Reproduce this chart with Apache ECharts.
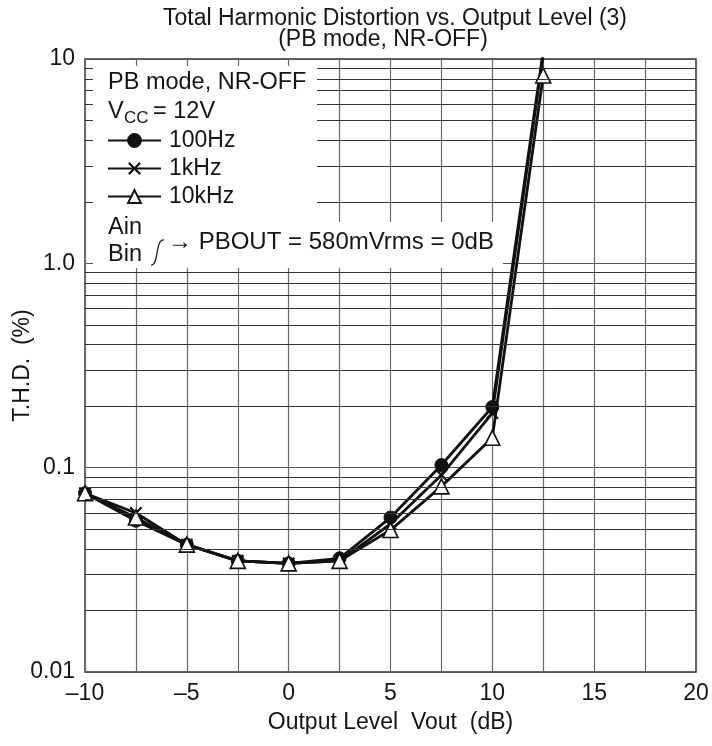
<!DOCTYPE html>
<html>
<head>
<meta charset="utf-8">
<script src="https://cdn.jsdelivr.net/npm/echarts@6/dist/echarts.min.js"></script>
<style>
html,body{margin:0;padding:0;background:#fff;}
#chart{width:712px;height:746px;}
</style>
</head>
<body>
<div id="chart"></div>
<script>
// ---- data ----
var outputLevels = [-10, -7.5, -5, -2.5, 0, 2.5, 5, 7.5, 10, 12.5];
var thd100Hz = [0.075, 0.055, 0.042, 0.035, 0.034, 0.036, 0.057, 0.103, 0.198, 11];
var thd1kHz  = [0.075, 0.060, 0.042, 0.035, 0.034, 0.035, 0.053, 0.092, 0.185, 10.5];
var thd10kHz = [0.075, 0.057, 0.042, 0.035, 0.034, 0.035, 0.0495, 0.081, 0.14, 8.3];
var seriesNames = ['100Hz', '1kHz', '10kHz'];
var xTickValues = [-10, -5, 0, 5, 10, 15, 20];
var xTickLabels = ['\u201310', '\u20135', '0', '5', '10', '15', '20'];
var yTickValues = [0.01, 0.1, 1, 10];
var yTickLabels = ['0.01', '0.1', '1.0', '10'];
var minorGridValues = [0.02,0.03,0.04,0.05,0.06,0.07,0.08,0.09,
                       0.2,0.3,0.4,0.5,0.6,0.7,0.8,0.9,
                       2,3,4,5,6,7,8,9];
var titleLine1 = 'Total Harmonic Distortion vs. Output Level (3)';
var titleLine2 = '(PB mode, NR-OFF)';

function pairs(xs, ys){ return xs.map(function(x,i){ return [x, ys[i]]; }); }

var FONT = 'Liberation Sans, Arial, Helvetica, sans-serif';
var TXT = '#151515';
var chart = echarts.init(document.getElementById('chart'), null, {renderer:'canvas'});

var xSymbol = 'path://M0,1.2L1.2,0L5,3.8L8.8,0L10,1.2L6.2,5L10,8.8L8.8,10L5,6.2L1.2,10L0,8.8L3.8,5Z';

function mkSeries(name, ys, symbol, size, itemStyle, extra){
  var s = {
    name: name, type: 'line', data: pairs(outputLevels, ys),
    symbol: symbol, symbolSize: size, showAllSymbol: true,
    clip: true,
    lineStyle: {color:'#111', width: 2.8},
    itemStyle: itemStyle,
    emphasis: {disabled: true},
    animation: false
  };
  if (extra) for (var k in extra) s[k] = extra[k];
  return s;
}

var option = {
  animation: false,
  backgroundColor: '#fff',
  grid: {left: 85, right: 16, top: 59, bottom: 74, show: true, borderColor: '#333', borderWidth: 1.5,
         backgroundColor: 'transparent', containLabel: false, outerBoundsMode: 'none'},
  legend: {
    data: seriesNames, orient: 'vertical', left: 102, top: 124,
    itemWidth: 53, itemHeight: 16, itemGap: 5, z: 20,
    selectedMode: false,
    textStyle: {fontFamily: FONT, fontSize: 23, color: TXT, padding: [0,0,0,3]}
  },
  xAxis: {
    type: 'value', min: -10, max: 20, interval: 2.5,
    name: 'Output Level  Vout  (dB)', nameLocation: 'middle', nameGap: 39,
    nameTextStyle: {fontFamily: FONT, fontSize: 23, color: TXT},
    axisLine: {show: false}, axisTick: {show: false},
    axisLabel: {
      margin: 10, fontFamily: FONT, fontSize: 23, color: TXT,
      formatter: function(v){ var i = xTickValues.indexOf(v); return i >= 0 ? xTickLabels[i] : ''; }
    },
    splitLine: {show: true, lineStyle: {color: '#6a6a6a', width: 1.2}}
  },
  yAxis: {
    type: 'log', logBase: 10, min: 0.01, max: 10,
    name: 'T.H.D.  (%)', nameLocation: 'middle', nameGap: 51, nameRotate: 90, nameMoveOverlap: false,
    nameTextStyle: {fontFamily: FONT, fontSize: 23, color: TXT},
    axisLine: {show: false}, axisTick: {show: false},
    axisLabel: {
      margin: 10, fontFamily: FONT, fontSize: 23, color: TXT,
      formatter: function(v){
        for (var i = 0; i < yTickValues.length; i++) {
          if (Math.abs(Math.log10(v) - Math.log10(yTickValues[i])) < 1e-6) return yTickLabels[i];
        }
        return '';
      }
    },
    splitLine: {show: true, lineStyle: {color: '#555', width: 1.2}}
  },
  series: [
    mkSeries(seriesNames[0], thd100Hz, 'circle', 13, {color: '#111', borderColor: '#111', borderWidth: 1}, {
      markLine: {
        silent: true, symbol: ['none','none'], label: {show: false},
        lineStyle: {color: '#333', width: 1.1, type: 'solid'},
        emphasis: {disabled: true},
        data: minorGridValues.map(function(v){ return {yAxis: v}; }),
        animation: false
      }
    }),
    mkSeries(seriesNames[1], thd1kHz, xSymbol, 13, {color: '#111', borderColor: '#111', borderWidth: 0}),
    mkSeries(seriesNames[2], thd10kHz, 'triangle', 15, {color: '#fff', borderColor: '#111', borderWidth: 1.6})
  ],
  graphic: [
    {type: 'text', z: 11, x: 395, y: 19, style: {text: titleLine1, font: '23px ' + FONT, fill: TXT, align: 'center', verticalAlign: 'middle'}},
    {type: 'text', z: 11, x: 383, y: 40, style: {text: titleLine2, font: '23px ' + FONT, fill: TXT, align: 'center', verticalAlign: 'middle'}},
    {type: 'rect', z: 10, shape: {x: 93, y: 66, width: 224, height: 160}, style: {fill: '#fff'}},
    {type: 'rect', z: 10, shape: {x: 93, y: 222, width: 410, height: 46}, style: {fill: '#fff'}},
    {type: 'text', z: 11, x: 108, y: 83, style: {text: 'PB mode, NR-OFF', font: '23.5px ' + FONT, fill: TXT, verticalAlign: 'middle'}},
    {type: 'text', z: 11, x: 108, y: 112, style: {text: 'V', font: '23.5px ' + FONT, fill: TXT, verticalAlign: 'middle'}},
    {type: 'text', z: 11, x: 124, y: 118, style: {text: 'CC', font: '17px ' + FONT, fill: TXT, verticalAlign: 'middle'}},
    {type: 'text', z: 11, x: 153, y: 112, style: {text: '= 12V', font: '23.5px ' + FONT, fill: TXT, verticalAlign: 'middle'}},
    {type: 'text', z: 11, x: 108, y: 228, style: {text: 'Ain', font: '23.5px ' + FONT, fill: TXT, verticalAlign: 'middle'}},
    {type: 'text', z: 11, x: 108, y: 255, style: {text: 'Bin', font: '23.5px ' + FONT, fill: TXT, verticalAlign: 'middle'}},
    {type: 'bezierCurve', z: 11, shape: {x1: 151, y1: 265, cpx1: 159, cpy1: 266, cpx2: 155, cpy2: 239, x2: 164, y2: 240}, style: {stroke: TXT, lineWidth: 1.2, fill: null}},
    {type: 'text', z: 11, x: 168, y: 242, style: {text: '\u2192 PBOUT = 580mVrms = 0dB', font: '24px ' + FONT, fill: TXT, verticalAlign: 'middle'}}
  ]
};
chart.setOption(option);
</script>
</body>
</html>
